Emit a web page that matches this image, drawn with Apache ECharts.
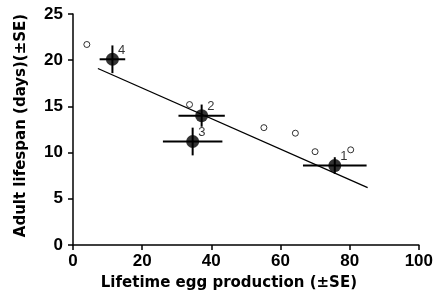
<!DOCTYPE html>
<html>
<head>
<meta charset="utf-8">
<script src="https://cdn.jsdelivr.net/npm/echarts@6/dist/echarts.min.js"></script>
<style>
  html, body { margin: 0; padding: 0; background: #fff; }
  #chart { width: 436px; height: 297px; }
</style>
</head>
<body>
<div id="chart"></div>
<script>
// group means with standard errors
const groupLabels = ['1', '2', '3', '4']
const groupEggs = [75.7, 37.2, 34.6, 11.4]
const groupEggsSE = [9.2, 6.7, 8.6, 3.7]
const groupLife = [8.6, 14.0, 11.2, 20.1]
const groupLifeSE = [0.9, 1.2, 1.5, 1.5]

// individual (open) points
const openEggs = [4.0, 33.7, 55.2, 64.3, 70.0, 80.3]
const openLife = [21.7, 15.2, 12.7, 12.1, 10.1, 10.3]

// regression line ends
const fitEggs = [7.2, 85.2]
const fitLife = [19.1, 6.2]

const xTicks = [0, 20, 40, 60, 80, 100]
const yTicks = [0, 5, 10, 15, 20, 25]

const font = 'Liberation Sans'
const titleFont = 'DejaVu Sans'

const chart = echarts.init(document.getElementById('chart'))

const groupData = groupEggs.map((x, i) => [x, groupLife[i], groupEggsSE[i], groupLifeSE[i], groupLabels[i]])

const option = {
  backgroundColor: '#fff',
  animation: false,
  grid: { left: 73, right: 13, top: 14, bottom: 52 },
  xAxis: {
    type: 'value',
    min: xTicks[0],
    max: xTicks[xTicks.length - 1],
    interval: 20,
    name: 'Lifetime egg production (\u00b1SE)',
    nameLocation: 'middle',
    nameGap: 31,
    nameTextStyle: { fontFamily: titleFont, fontSize: 15, fontWeight: 'bold', color: '#000', padding: [0, 34, 0, 0] },
    axisLine: { lineStyle: { color: '#000', width: 1.5 } },
    axisTick: { lineStyle: { color: '#000', width: 1.5 }, length: 5 },
    axisLabel: { fontFamily: font, fontSize: 17, fontWeight: 'bold', color: '#000', margin: 8 },
    splitLine: { show: false }
  },
  yAxis: {
    type: 'value',
    min: yTicks[0],
    max: yTicks[yTicks.length - 1],
    interval: 5,
    name: 'Adult lifespan (days)(\u00b1SE)',
    nameLocation: 'middle',
    nameGap: 44,
    nameTextStyle: { fontFamily: titleFont, fontSize: 15, fontWeight: 'bold', color: '#000', padding: [0, 0, 0, 8] },
    axisLine: { show: true, lineStyle: { color: '#000', width: 1.5 } },
    axisTick: { show: true, lineStyle: { color: '#000', width: 1.5 }, length: 5 },
    axisLabel: { fontFamily: font, fontSize: 17, fontWeight: 'bold', color: '#000', margin: 10 },
    splitLine: { show: false }
  },
  series: [
    {
      type: 'line',
      data: fitEggs.map((x, i) => [x, fitLife[i]]),
      symbol: 'none',
      lineStyle: { color: '#000', width: 1.3 },
      z: 2
    },
    {
      type: 'scatter',
      data: openEggs.map((x, i) => [x, openLife[i]]),
      symbol: 'circle',
      symbolSize: 6,
      itemStyle: { color: '#fff', borderColor: '#000', borderWidth: 1 },
      z: 3
    },
    {
      // error bars
      type: 'custom',
      data: groupData,
      renderItem: (params, api) => {
        const x = api.value(0), y = api.value(1)
        const sx = api.value(2), sy = api.value(3)
        const l = api.coord([x - sx, y])
        const r = api.coord([x + sx, y])
        const t = api.coord([x, y + sy])
        const b = api.coord([x, y - sy])
        const style = { stroke: '#000', lineWidth: 2 }
        return {
          type: 'group',
          children: [
            { type: 'line', shape: { x1: l[0], y1: l[1], x2: r[0], y2: r[1] }, style },
            { type: 'line', shape: { x1: t[0], y1: t[1], x2: b[0], y2: b[1] }, style }
          ]
        }
      },
      encode: { x: 0, y: 1 },
      z: 4
    },
    {
      type: 'scatter',
      data: groupData,
      symbol: 'circle',
      symbolSize: 13,
      itemStyle: { color: '#000' },
      label: {
        show: true,
        position: [12, -9],
        formatter: p => p.value[4],
        fontFamily: font,
        fontSize: 13,
        color: '#000'
      },
      z: 5
    }
  ]
}

chart.setOption(option)
</script>
</body>
</html>
